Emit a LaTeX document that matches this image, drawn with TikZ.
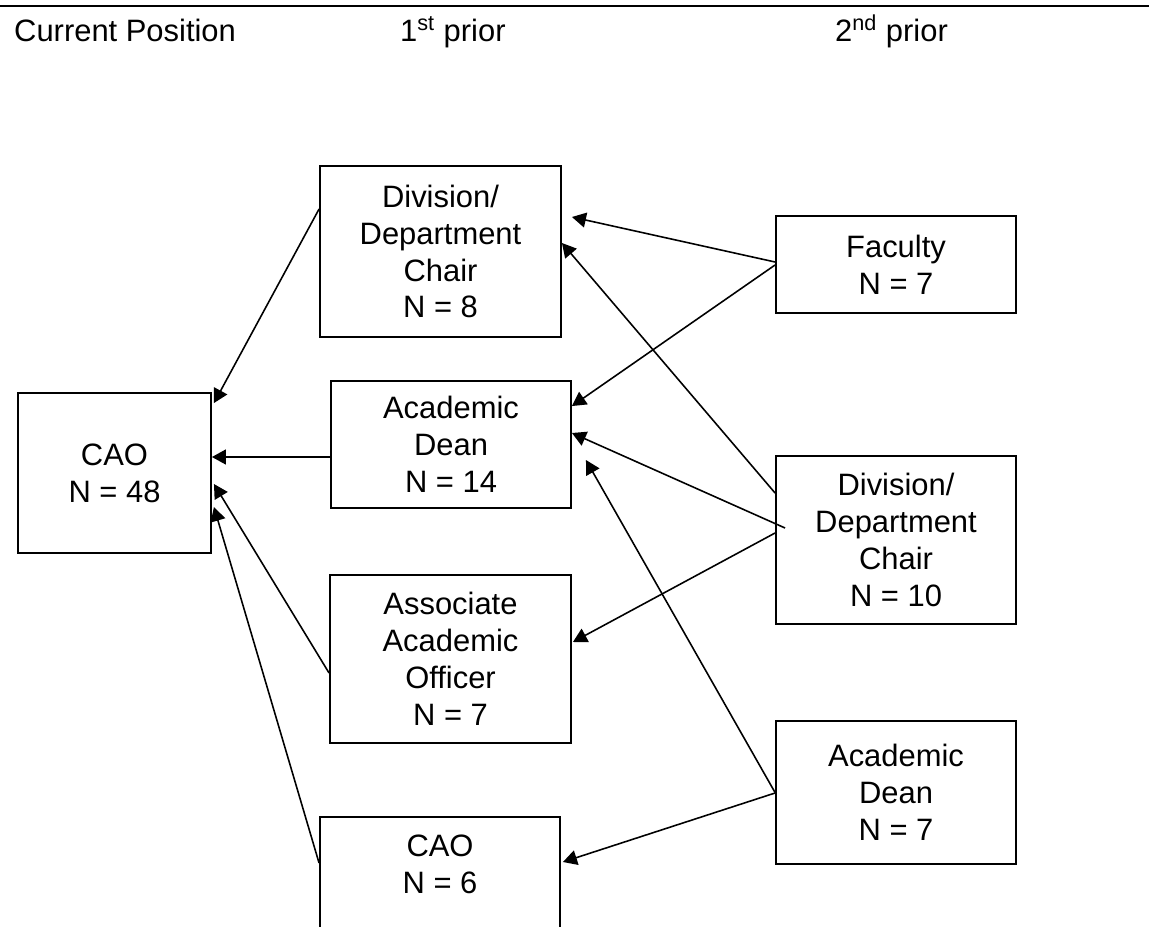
\documentclass[tikz,border=0pt]{standalone}
\usepackage{fontspec}
\setmainfont{Liberation Sans}
\usetikzlibrary{arrows.meta,calc}
\tikzset{
  box/.style={draw,line width=1.1pt,align=center,inner sep=0pt,
    font=\fontsize{17.6pt}{21pt}\selectfont},
  link/.style={line width=0.9pt,-{Triangle[length=0.28cm,width=0.3cm]}},
  head/.style={anchor=base west,font=\fontsize{17.6pt}{21pt}\selectfont}
}
\begin{document}
\begin{tikzpicture}[x=0.02cm,y=-0.02cm]
\useasboundingbox (0,0) rectangle (1149,926);
\clip (0,0) rectangle (1149,926);
\fill[white] (0,0) rectangle (1149,926);
% header
\draw[line width=1.2pt] (0,6) -- (1149,6);
\node[head] (hcur) at (8,42) {Current Position};
\node[head] (hone) at (394,42) {1\textsuperscript{st} prior};
\node[head] (htwo) at (829,42) {2\textsuperscript{nd} prior};
% current position
\node[box,minimum width=3.86cm,minimum height=3.2cm] (caoL) at (114.5,473) {CAO\\N = 48};
% 1st prior
\node[box,minimum width=4.82cm,minimum height=3.42cm] (divA) at (440.5,251.5) {Division/\\Department\\Chair\\N = 8};
\node[box,minimum width=4.8cm,minimum height=2.54cm] (deanA) at (451,444.5) {Academic\\Dean\\N = 14};
\node[box,minimum width=4.82cm,minimum height=3.36cm] (assoc) at (450.5,659) {Associate\\Academic\\Officer\\N = 7};
\node[box,minimum width=4.8cm,minimum height=3cm,anchor=north] (caoB) at (440,816) {};
\node[font=\fontsize{17.6pt}{21pt}\selectfont,align=center] (caoBtext) at (440,864) {CAO\\N = 6};
% 2nd prior
\node[box,minimum width=4.8cm,minimum height=1.94cm] (fac) at (896,264.5) {Faculty\\N = 7};
\node[box,minimum width=4.8cm,minimum height=3.36cm] (divB) at (896,540) {Division/\\Department\\Chair\\N = 10};
\node[box,minimum width=4.8cm,minimum height=2.86cm] (deanB) at (896,792.5) {Academic\\Dean\\N = 7};
% 1st prior -> current
\draw[link] ($(divA.north west)+(0,44)$) -- ($(caoL.north east)+(2,11)$);
\draw[link] ($(deanA.west)+(0,12.5)$) -- ($(caoL.east)+(0,-16)$);
\draw[link] ($(assoc.west)+(0,14)$) -- ($(caoL.east)+(2,11)$);
\draw[link] ($(caoB.north west)+(0,47)$) -- ($(caoL.east)+(2,34)$);
% 2nd prior -> 1st prior
\draw[link] ($(fac.west)+(0,-2.5)$) -- ($(divA.east)+(10,-34.5)$);
\draw[link] ($(fac.west)+(0,0.5)$) -- ($(deanA.north east)+(0,26)$);
\draw[link] ($(divB.west)+(0,-47)$) -- ($(divA.east)+(0,-8.5)$);
\draw[link] ($(divB.west)+(10,-12)$) -- ($(deanA.east)+(0,-11.5)$);
\draw[link] ($(divB.west)+(0,-7)$) -- ($(assoc.east)+(1,-17)$);
\draw[link] (deanB.west) -- ($(deanA.east)+(14,15.5)$);
\draw[link] ($(deanB.west)+(0,0.5)$) -- ($(caoB.north east)+(2,46)$);
\end{tikzpicture}
\end{document}
